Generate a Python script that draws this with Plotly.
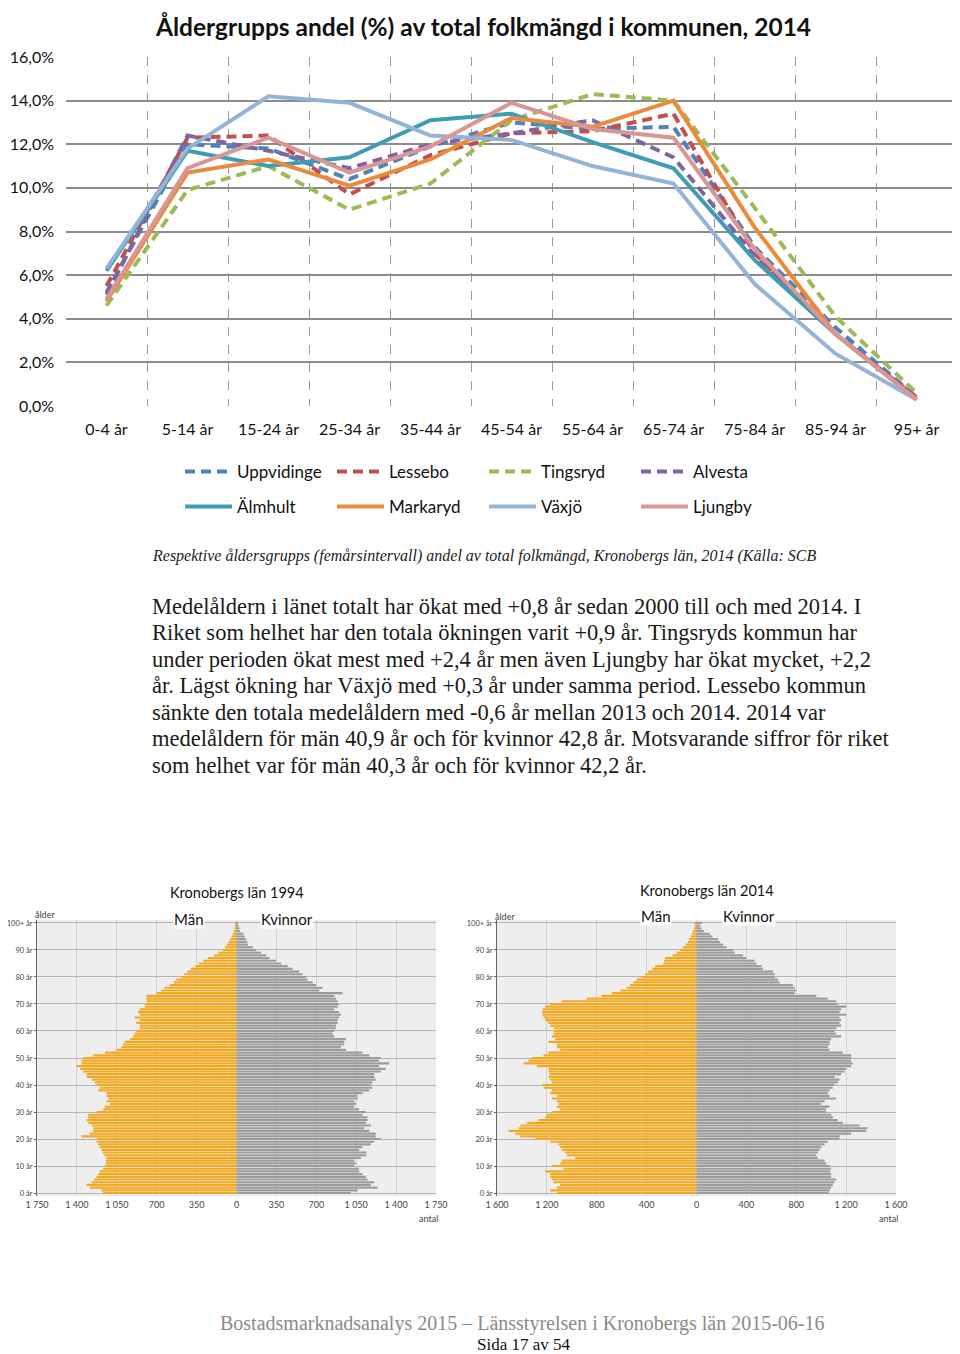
import plotly.graph_objects as go

# ---------------- DATA ----------------
categories = ["0-4 år", "5-14 år", "15-24 år", "25-34 år", "35-44 år", "45-54 år",
              "55-64 år", "65-74 år", "75-84 år", "85-94 år", "95+ år"]

uppvidinge = [5.2, 12.0, 11.8, 10.4, 11.9, 13.0, 12.7, 12.8, 7.3, 3.6, 0.4]
lessebo    = [5.5, 12.3, 12.4, 9.7, 11.5, 12.5, 12.6, 13.4, 7.0, 3.3, 0.4]
tingsryd   = [4.6, 9.9, 11.0, 9.0, 10.2, 13.1, 14.3, 14.0, 9.1, 4.1, 0.6]
alvesta    = [5.1, 12.4, 11.7, 10.9, 12.0, 12.5, 13.1, 11.4, 6.9, 3.3, 0.4]
almhult    = [6.2, 11.7, 11.0, 11.4, 13.1, 13.4, 12.1, 10.9, 6.7, 3.3, 0.3]
markaryd   = [4.8, 10.7, 11.3, 10.1, 11.3, 13.2, 12.8, 14.0, 8.2, 3.3, 0.3]
vaxjo      = [6.3, 11.8, 14.2, 13.9, 12.4, 12.2, 11.0, 10.2, 5.6, 2.4, 0.3]
ljungby    = [4.9, 10.9, 12.3, 10.7, 11.9, 13.9, 12.7, 12.3, 7.2, 3.3, 0.3]

ages = list(range(0, 101))

men_1994 = [1170, 1184, 1286, 1316, 1272, 1250, 1228, 1213, 1200, 1170,
            1155, 1146, 1146, 1140, 1160, 1175, 1184, 1199, 1213, 1228,
            1225, 1359, 1286, 1257, 1257, 1270, 1301, 1316, 1301, 1301,
            1228, 1170, 1155, 1111, 1140, 1126, 1140, 1140, 1213, 1199,
            1228, 1243, 1270, 1316, 1316, 1345, 1370, 1403, 1359, 1359,
            1345, 1257, 1155, 1053, 1009, 995, 980, 936, 907, 893,
            878, 849, 849, 878, 849, 893, 849, 863, 849, 805,
            805, 790, 790, 790, 700, 660, 630, 586, 550, 528,
            485, 460, 430, 400, 360, 330, 290, 250, 195, 160,
            125, 100, 85, 70, 55, 44, 32, 26, 17, 12, 9]

women_1994 = [1003, 1062, 1237, 1178, 1208, 1149, 1135, 1105, 1076, 1076,
              1033, 1047, 1033, 1091, 1140, 1140, 1076, 1105, 1178, 1208,
              1266, 1222, 1222, 1164, 1120, 1178, 1135, 1149, 1149, 1105,
              1135, 1076, 1033, 1047, 1033, 1062, 1062, 1105, 1164, 1193,
              1178, 1193, 1222, 1208, 1208, 1266, 1310, 1251, 1339, 1251,
              1266, 1164, 1105, 960, 916, 945, 945, 960, 858, 843,
              858, 872, 872, 887, 887, 901, 916, 901, 858, 887,
              901, 887, 872, 858, 930, 726, 755, 697, 668, 624,
              610, 580, 551, 493, 449, 391, 347, 289, 260, 216,
              172, 143, 99, 95, 85, 70, 60, 30, 25, 20, 9]

men_2014 = [1120, 1173, 1120, 1093, 1147, 1160, 1173, 1173, 1213, 1067,
            1160, 1093, 1080, 973, 1040, 1053, 1080, 1093, 1107, 1173,
            1293, 1413, 1453, 1507, 1427, 1413, 1360, 1267, 1213, 1200,
            1160, 1093, 1120, 1107, 1120, 1160, 1120, 1173, 1160, 1227,
            1240, 1160, 1173, 1187, 1179, 1187, 1187, 1280, 1387, 1347,
            1320, 1227, 1187, 1093, 1120, 1120, 1187, 1133, 1160, 1147,
            1147, 1147, 1173, 1190, 1213, 1227, 1236, 1240, 1232, 1213,
            1173, 1080, 880, 760, 680, 610, 560, 533, 507, 480,
            440, 413, 387, 352, 333, 267, 261, 253, 192, 160,
            133, 107, 85, 69, 59, 45, 35, 27, 21, 13, 21]

women_2014 = [1061, 1067, 1080, 1093, 1107, 1120, 1080, 1080, 1072, 1080,
              1067, 1040, 1027, 973, 960, 973, 987, 1000, 1027, 1053,
              1147, 1147, 1240, 1360, 1373, 1307, 1173, 1133, 1093, 1080,
              1040, 1040, 1067, 1000, 1027, 1120, 1067, 1053, 1067, 1093,
              1107, 1133, 1147, 1107, 1160, 1187, 1200, 1240, 1253, 1240,
              1240, 1240, 1173, 1067, 1053, 1067, 1067, 1080, 1160, 1120,
              1107, 1120, 1160, 1147, 1160, 1147, 1200, 1147, 1160, 1200,
              1133, 1120, 1053, 960, 787, 800, 787, 773, 667, 653,
              627, 627, 613, 533, 520, 480, 467, 400, 373, 307,
              293, 240, 213, 187, 173, 128, 107, 60, 40, 30, 45]

age_tickvals = [0, 10, 20, 30, 40, 50, 60, 70, 80, 90, 100]
age_ticktext = ["0 år", "10 år", "20 år", "30 år", "40 år", "50 år",
                "60 år", "70 år", "80 år", "90 år", "100+ år"]
x94_tickvals = [-1750, -1400, -1050, -700, -350, 0, 350, 700, 1050, 1400, 1750]
x94_ticktext = ["1 750", "1 400", "1 050", "700", "350", "0", "350", "700", "1 050", "1 400", "1 750"]
x14_tickvals = [-1600, -1200, -800, -400, 0, 400, 800, 1200, 1600]
x14_ticktext = ["1 600", "1 200", "800", "400", "0", "400", "800", "1 200", "1 600"]

paragraph = [
    "Medelåldern i länet totalt har ökat med +0,8 år sedan 2000 till och med 2014. I",
    "Riket som helhet har den totala ökningen varit +0,9 år. Tingsryds kommun har",
    "under perioden ökat mest med +2,4 år men även Ljungby har ökat mycket, +2,2",
    "år. Lägst ökning har Växjö med +0,3 år under samma period. Lessebo kommun",
    "sänkte den totala medelåldern med -0,6 år mellan 2013 och 2014. 2014 var",
    "medelåldern för män 40,9 år och för kvinnor 42,8 år. Motsvarande siffror för riket",
    "som helhet var för män 40,3 år och för kvinnor 42,2 år.",
]

# ---------------- FIGURE ----------------
# the page body keeps an 8px margin, so the figure is 8px smaller and
# page-pixel positions are converted with that offset
OFF = 8
W, H = 960 - OFF, 1354 - OFF


def px(x):
    return (x - OFF) / W


def py(y):
    return 1 - (y - OFF) / H


FONT = "Lato"
SERIF = "Liberation Serif"
fig = go.Figure()

series = [
    ("Uppvidinge", uppvidinge, "#4F81BD", "10px,6px", "legend"),
    ("Lessebo", lessebo, "#C0504D", "10px,6px", "legend"),
    ("Tingsryd", tingsryd, "#9BBB59", "10px,6px", "legend"),
    ("Alvesta", alvesta, "#8064A2", "10px,6px", "legend"),
    ("Älmhult", almhult, "#3E9DB3", "solid", "legend2"),
    ("Markaryd", markaryd, "#EC8A3C", "solid", "legend2"),
    ("Växjö", vaxjo, "#95B3D7", "solid", "legend2"),
    ("Ljungby", ljungby, "#D99694", "solid", "legend2"),
]
for name, vals, col, dash, leg in series:
    fig.add_trace(go.Scatter(x=categories, y=vals, name=name, mode="lines",
                             line=dict(color=col, width=4, dash=dash),
                             legend=leg, xaxis="x", yaxis="y"))

# pyramids
fig.add_trace(go.Bar(y=ages, x=[-v for v in men_1994], orientation="h",
                     marker=dict(color="#F2A922", line=dict(width=0)),
                     xaxis="x2", yaxis="y2", showlegend=False, name="Män 1994"))
fig.add_trace(go.Bar(y=ages, x=women_1994, orientation="h",
                     marker=dict(color="#9C9C9C", line=dict(width=0)),
                     xaxis="x2", yaxis="y2", showlegend=False, name="Kvinnor 1994"))
fig.add_trace(go.Bar(y=ages, x=[-v for v in men_2014], orientation="h",
                     marker=dict(color="#F2A922", line=dict(width=0)),
                     xaxis="x3", yaxis="y3", showlegend=False, name="Män 2014"))
fig.add_trace(go.Bar(y=ages, x=women_2014, orientation="h",
                     marker=dict(color="#9C9C9C", line=dict(width=0)),
                     xaxis="x3", yaxis="y3", showlegend=False, name="Kvinnor 2014"))

pyr_x_common = dict(showline=False, zeroline=False, ticks="", showgrid=True,
                    gridcolor="#D2D2D2", gridwidth=1,
                    tickfont=dict(family=FONT, size=9, color="#444"),
                    ticklabelstandoff=2, fixedrange=True, automargin=False)
pyr_y_common = dict(range=[-1.1, 101.1], tickvals=age_tickvals, ticktext=age_ticktext,
                    showgrid=True, gridcolor="#B4B4B4", gridwidth=1, zeroline=False,
                    showline=True, linecolor="#666", linewidth=1, ticks="outside",
                    ticklen=2, tickcolor="#666", automargin=False,
                    ticklabelstandoff=0,
                    tickfont=dict(family=FONT, size=7.5, color="#444"),
                    domain=[py(1196), py(920)])

legend_common = dict(orientation="h", x=px(180), xanchor="left", yanchor="middle",
                     font=dict(family=FONT, size=17, color="#111"), entrywidth=90,
                     entrywidthmode="pixels", itemwidth=47, bgcolor="rgba(0,0,0,0)",
                     traceorder="normal")

fig.update_layout(
    width=W, height=H, margin=dict(l=0, r=0, t=0, b=0, autoexpand=False),
    paper_bgcolor="white", plot_bgcolor="rgba(0,0,0,0)",
    separators=", ",
    barmode="relative", bargap=0.2,
    font=dict(family=FONT, color="#111"),
    xaxis=dict(domain=[px(66), px(957)], type="category", range=[-0.5, 10.5],
               tickson="boundaries",
               showgrid=True, gridcolor="#9A9A9A", gridwidth=1, griddash="dash",
               ticks="", showline=False, zeroline=False, automargin=False,
               tickfont=dict(family=FONT, size=16, color="#111"),
               ticklabelstandoff=12, anchor="y", fixedrange=True),
    yaxis=dict(domain=[py(406), py(57)], range=[0, 16], dtick=2, tickformat=".1f",
               ticksuffix="%", showgrid=True, gridcolor="#8C8C8C", gridwidth=1.5,
               zeroline=False, showline=False, ticks="", automargin=False,
               tickfont=dict(family=FONT, size=16, color="#111"),
               ticklabelstandoff=11, anchor="x", fixedrange=True),
    xaxis2=dict(domain=[px(37), px(436)], range=[-1750, 1750], tickvals=x94_tickvals,
                ticktext=x94_ticktext, anchor="y2", **pyr_x_common),
    yaxis2=dict(anchor="x2", **pyr_y_common),
    xaxis3=dict(domain=[px(497), px(896)], range=[-1600, 1600], tickvals=x14_tickvals,
                ticktext=x14_ticktext, anchor="y3", **pyr_x_common),
    yaxis3=dict(anchor="x3", **pyr_y_common),
    legend=dict(y=py(472), **legend_common),
    legend2=dict(y=py(507), **legend_common),
    showlegend=True,
)

# gray plot backgrounds for pyramids
for xr, yr in (("x2 domain", "y2 domain"), ("x3 domain", "y3 domain")):
    fig.add_shape(type="rect", xref=xr, yref=yr, x0=0, x1=1, y0=0, y1=1,
                  fillcolor="#EEEEEE", line=dict(width=0), layer="below")

ann = []


def add_text(text, x, y, size, family=FONT, color="#111", xanchor="center",
             yanchor="middle", align="center", bg=None):
    d = dict(text=text, x=px(x), y=py(y), xref="paper", yref="paper",
             showarrow=False, xanchor=xanchor, yanchor=yanchor, align=align,
             font=dict(family=family, size=size, color=color))
    if bg:
        d["bgcolor"] = bg
        d["borderpad"] = 0
    ann.append(d)


add_text("<b>Åldergrupps andel (%) av total folkmängd i kommunen, 2014</b>", 483, 9, 24.5,
         yanchor="top")
add_text("<i>Respektive åldersgrupps (femårsintervall) andel av total folkmängd, "
         "Kronobergs län, 2014 (Källa: SCB</i>", 150, 556, 16, family=SERIF,
         color="#222", xanchor="left")
for i, line in enumerate(paragraph):
    add_text(line, 150, 606 + i * 26.5, 22.5, family=SERIF, color="#1a1a1a",
             xanchor="left", align="left")

# pyramid titles
add_text("Kronobergs län 1994", 237, 892, 14.5)
add_text("Män", 189, 919, 15, bg="white")
add_text("Kvinnor", 287, 919, 15, bg="white")
add_text("Kronobergs län 2014", 707, 890, 14.5)
add_text("Män", 656, 916, 15, bg="white")
add_text("Kvinnor", 749, 916, 15, bg="white")
add_text("ålder", 45, 914, 9, color="#444")
add_text("ålder", 505, 916, 9, color="#444")
add_text("antal", 428, 1218, 9, color="#444")
add_text("antal", 888, 1218, 9, color="#444")

# footer
add_text("Bostadsmarknadsanalys 2015 – Länsstyrelsen i Kronobergs län 2015-06-16",
         522, 1323, 20, family=SERIF, color="#8a8a8a")
add_text("Sida 17 av 54", 524, 1344, 17, family=SERIF, color="#111")

fig.update_layout(annotations=ann)

fig.write_html("out.html")
